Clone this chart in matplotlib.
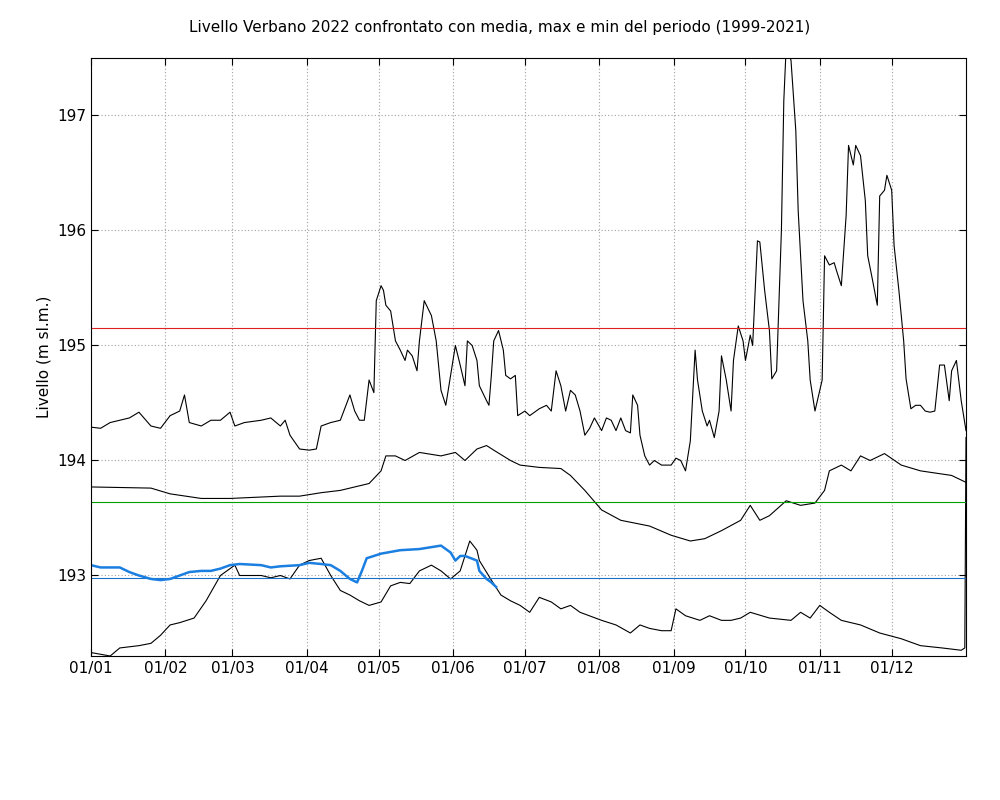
import numpy as np
import matplotlib.pyplot as plt

# daily-ish samples (day of year from 01/01, level in m s.l.m.)
max_days = [0,4,8,12,16,20,25,29,33,37,39,41,46,50,54,58,60,64,71,75,79,81,83,87,91,94,96,100,104,108,110,112,114,116,118,119,121,122,123,125,127,129,131,132,134,136,137,139,142,144,146,148,150,152,154,156,157,159,161,162,165,166,167,168,170,172,173,175,177,178,181,183,185,187,190,192,194,196,198,200,202,204,206,208,210,213,215,217,219,221,223,225,226,228,229,231,233,235,238,242,244,246,248,250,252,253,255,257,258,260,262,263,265,267,268,270,272,273,275,276,278,279,281,283,284,286,288,289,290,292,294,295,297,299,300,302,304,305,306,308,310,311,313,315,316,318,319,321,323,324,326,328,329,331,332,334,335,337,339,340,342,344,346,348,350,352,354,356,358,359,361,363,365]
max_vals = [194.29,194.28,194.33,194.35,194.37,194.42,194.30,194.28,194.39,194.43,194.57,194.33,194.30,194.35,194.35,194.42,194.30,194.33,194.35,194.37,194.30,194.35,194.22,194.10,194.09,194.10,194.30,194.33,194.35,194.57,194.43,194.35,194.35,194.70,194.59,195.39,195.52,195.48,195.35,195.30,195.04,194.96,194.87,194.96,194.91,194.78,195.04,195.39,195.26,195.04,194.61,194.48,194.74,195.00,194.83,194.65,195.04,195.00,194.87,194.65,194.52,194.48,194.74,195.04,195.13,194.96,194.74,194.71,194.74,194.39,194.43,194.39,194.42,194.45,194.48,194.43,194.78,194.65,194.43,194.61,194.57,194.43,194.22,194.28,194.37,194.26,194.37,194.35,194.26,194.37,194.26,194.24,194.57,194.48,194.22,194.04,193.96,194.00,193.96,193.96,194.02,194.00,193.91,194.17,194.96,194.70,194.43,194.30,194.35,194.20,194.43,194.91,194.70,194.43,194.87,195.17,195.04,194.87,195.09,195.00,195.91,195.90,195.48,195.13,194.71,194.78,196.00,197.13,197.60,197.48,196.87,196.17,195.39,195.04,194.70,194.43,194.61,194.70,195.78,195.70,195.72,195.65,195.52,196.13,196.74,196.57,196.74,196.65,196.26,195.78,195.57,195.35,196.30,196.35,196.48,196.35,195.87,195.48,195.04,194.71,194.45,194.48,194.48,194.43,194.42,194.43,194.83,194.83,194.52,194.78,194.87,194.52,194.26]

mean_days = [0,25,33,46,58,79,87,96,104,112,116,121,123,127,131,137,146,152,156,161,165,168,175,179,187,196,200,206,213,221,233,242,250,256,263,271,275,279,283,290,296,302,306,308,313,317,321,325,331,338,346,359,365]
mean_vals = [193.77,193.76,193.71,193.67,193.67,193.69,193.69,193.72,193.74,193.78,193.80,193.91,194.04,194.04,194.00,194.07,194.04,194.07,194.00,194.10,194.13,194.09,194.00,193.96,193.94,193.93,193.87,193.74,193.57,193.48,193.43,193.35,193.30,193.32,193.39,193.48,193.61,193.48,193.52,193.65,193.61,193.63,193.74,193.91,193.96,193.91,194.04,194.00,194.06,193.96,193.91,193.87,193.81]

min_days = [0,8,12,20,25,29,33,37,43,48,54,60,62,66,71,75,79,83,87,91,96,100,104,108,112,116,121,125,129,133,137,142,146,150,154,156,158,161,162,167,171,175,179,183,187,192,196,200,204,213,219,225,229,233,238,242,244,248,254,258,263,267,271,275,283,292,296,300,304,308,313,321,329,338,346,355,363,364.5,365]
min_vals = [192.33,192.30,192.37,192.39,192.41,192.48,192.57,192.59,192.63,192.78,193.00,193.09,193.00,193.00,193.00,192.98,193.00,192.97,193.09,193.13,193.15,193.00,192.87,192.83,192.78,192.74,192.77,192.91,192.94,192.93,193.04,193.09,193.04,192.97,193.04,193.17,193.30,193.22,193.13,192.96,192.83,192.78,192.74,192.68,192.81,192.77,192.71,192.74,192.68,192.61,192.57,192.50,192.57,192.54,192.52,192.52,192.71,192.65,192.61,192.65,192.61,192.61,192.63,192.68,192.63,192.61,192.68,192.63,192.74,192.68,192.61,192.57,192.50,192.45,192.39,192.37,192.35,192.37,194.20]

y2022_days = [0,4,12,16,20,25,29,33,37,41,46,50,54,58,62,71,75,79,87,91,96,100,104,108,111,113,115,121,129,137,146,150,152,154,156,161,162,165,167,169]
y2022_vals = [193.09,193.07,193.07,193.03,193.00,192.97,192.96,192.97,193.00,193.03,193.04,193.04,193.06,193.09,193.10,193.09,193.07,193.08,193.09,193.11,193.10,193.09,193.04,192.97,192.94,193.04,193.15,193.19,193.22,193.23,193.26,193.20,193.13,193.17,193.17,193.13,193.04,192.97,192.94,192.90]

level_max = 195.15
level_mean = 193.635
level_min = 192.98

month_starts = [0,31,59,90,120,151,181,212,243,273,304,334]
month_labels = ['01/01','01/02','01/03','01/04','01/05','01/06','01/07','01/08','01/09','01/10','01/11','01/12']

fig = plt.figure(figsize=(10, 8), dpi=100)
ax = fig.add_axes([0.091, 0.18, 0.875, 0.7475])

ax.plot(max_days, max_vals, color='black', lw=0.8)
ax.plot(mean_days, mean_vals, color='black', lw=0.8)
ax.plot(min_days, min_vals, color='black', lw=0.8)
ax.axhline(level_max, color='#e02020', lw=0.8)
ax.axhline(level_mean, color='#00a000', lw=0.8)
ax.axhline(level_min, color='#1a70c8', lw=0.8)
ax.plot(y2022_days, y2022_vals, color='#1a7fe0', lw=1.8)

ax.set_xlim(0, 365)
ax.set_ylim(192.3, 197.5)
ax.set_xticks(month_starts)
ax.set_xticklabels(month_labels)
ax.set_yticks([193, 194, 195, 196, 197])
ax.tick_params(direction='in', top=True, right=True, labelsize=11, length=5)
ax.grid(True, color='#a0a0a0', linestyle=(0, (1, 2)), lw=0.8)
ax.set_ylabel('Livello (m sl.m.)', fontsize=11)
fig.suptitle('Livello Verbano 2022 confrontato con media, max e min del periodo (1999-2021)', y=0.975, fontsize=11)

fig.savefig('out.png')
